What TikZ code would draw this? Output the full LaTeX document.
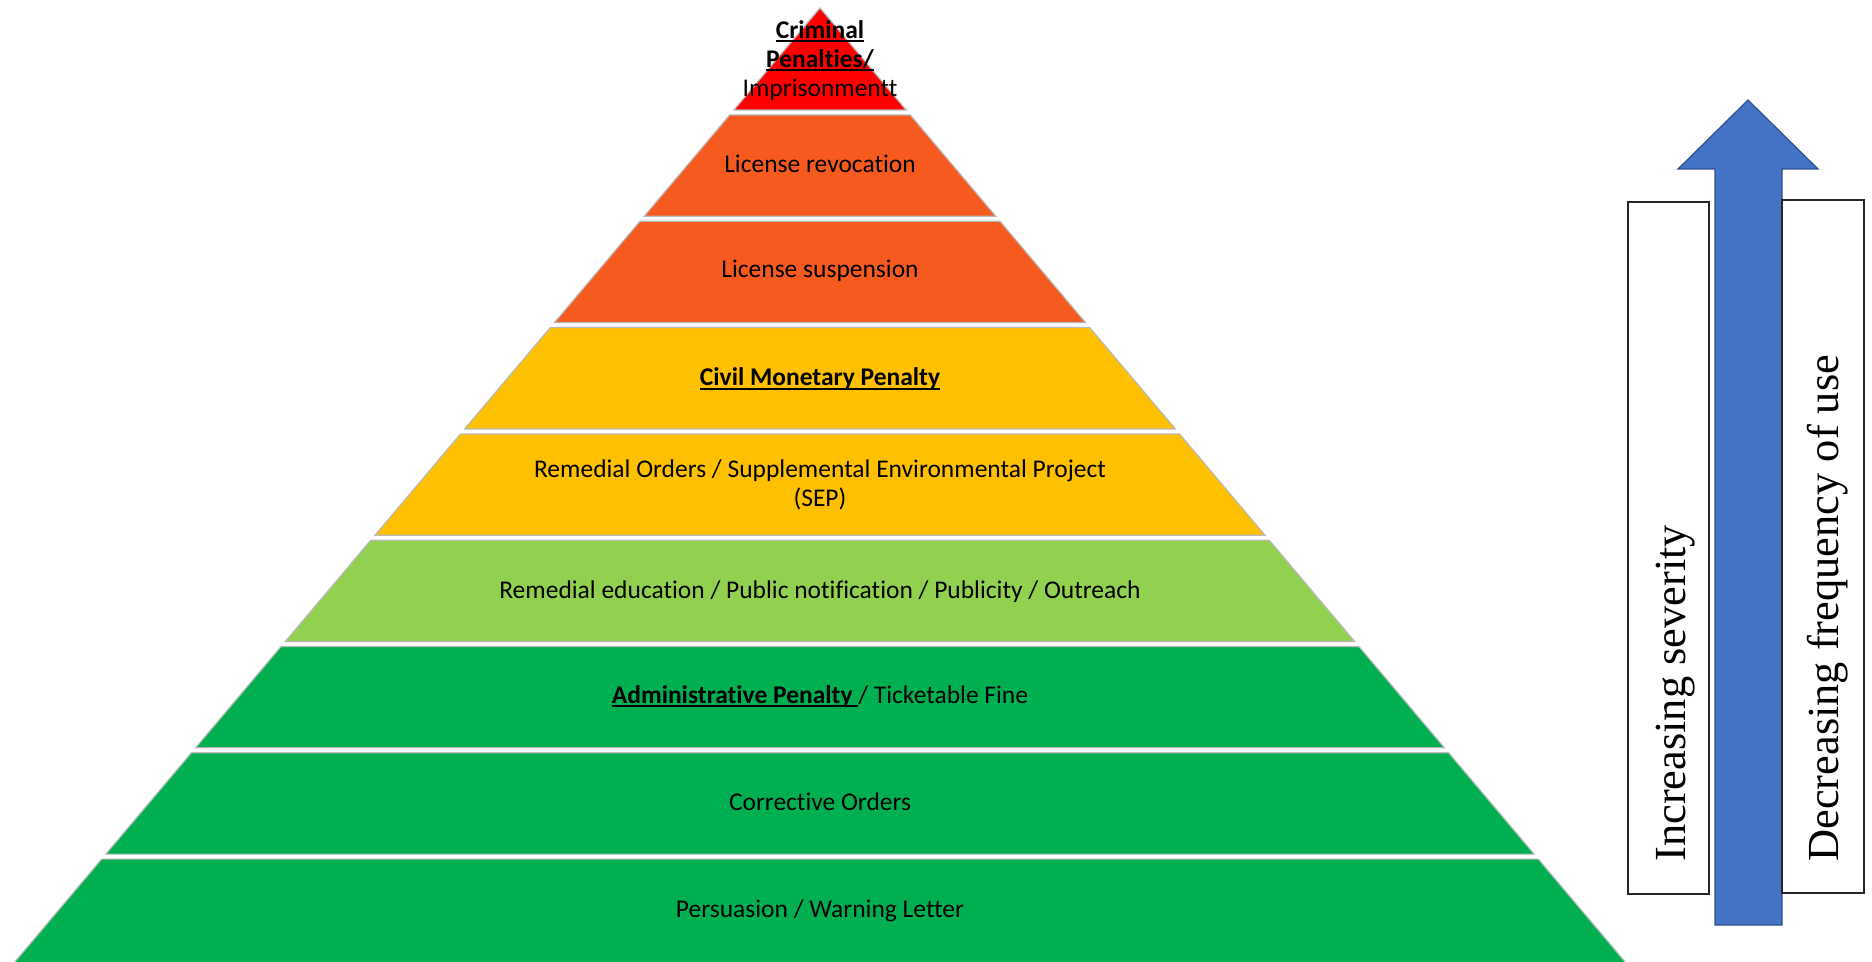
\documentclass[tikz,border=0pt]{standalone}
\usepackage{fontspec}
\setmainfont{Carlito}[Ligatures=NoCommon]
\newfontfamily\rotserif{Liberation Serif}
\definecolor{cred}{RGB}{255,0,0}
\definecolor{corange}{RGB}{246,90,30}
\definecolor{cyellow}{RGB}{255,192,0}
\definecolor{clgreen}{RGB}{146,208,80}
\definecolor{cgreen}{RGB}{0,176,80}
\definecolor{carrow}{RGB}{68,114,196}
\definecolor{carrowb}{RGB}{47,82,143}
\definecolor{cedge}{RGB}{185,185,185}
\newcommand{\myul}[1]{\setbox0\hbox{#1}\rlap{\rule[-0.14em]{\wd0}{0.075em}}\box0}
\newcommand{\band}[3]{\path[fill=#3,draw=cedge,line width=0.6pt,line join=miter]
  ({820-0.844*(#1-8)},#1) -- ({820+0.844*(#1-8)},#1) -- ({820+0.844*(#2-8)},#2) -- ({820-0.844*(#2-8)},#2) -- cycle;}
\tikzset{
  bandtext/.style={inner sep=0pt,align=center,text=black,font=\fontsize{12.75pt}{14.5pt}\selectfont},
  sidebox/.style={draw=black!85,line width=1pt,inner sep=0pt,fill=none},
  sidetext/.style={inner sep=0pt,rotate=90,anchor=base west,text=black,font=\rotserif\fontsize{22.2pt}{26pt}\selectfont},
}
\begin{document}
\begin{tikzpicture}[x=0.5pt,y=-0.5pt]
\useasboundingbox (0,0) rectangle (1872,962);
% pyramid bands
\band{8}{110}{cred}
\band{115}{216.3}{corange}
\band{221.3}{322.6}{corange}
\band{327.6}{428.9}{cyellow}
\band{433.9}{535.2}{cyellow}
\band{540.2}{641.5}{clgreen}
\band{646.5}{747.8}{cgreen}
\band{752.8}{854.1}{cgreen}
\band{859.1}{964}{cgreen}
% texts
\node[bandtext] (t1) at (820,60.5) {\textbf{\myul{Criminal}}\\\textbf{\myul{Penalties/}}\\Imprisonmentt};
\node[bandtext,anchor=base] (t2) at (820,173) {License revocation};
\node[bandtext,anchor=base] (t3) at (820,278) {License suspension};
\node[bandtext,anchor=base] (t4) at (820,386) {\textbf{\myul{Civil Monetary Penalty}}};
\node[bandtext] (t5) at (820,485) {Remedial Orders / Supplemental Environmental Project\\(SEP)};
\node[bandtext,anchor=base] (t6) at (820,598) {Remedial education / Public notification / Publicity / Outreach};
\node[bandtext,anchor=base] (t7) at (820,703) {\textbf{\myul{Administrative Penalty\ }}/ Ticketable Fine};
\node[bandtext,anchor=base] (t8) at (820,810) {Corrective Orders};
\node[bandtext,anchor=base] (t9) at (820,917) {Persuasion / Warning Letter};
% arrow
\path[fill=carrow,draw=carrowb,line width=0.6pt,line join=miter]
  (1715,925) -- (1715,169) -- (1678,169) -- (1748,100) -- (1818,169) -- (1782,169) -- (1782,925) -- cycle;
% side boxes
\node[sidebox,minimum width=40.5pt,minimum height=346pt] (sev) at (1668.5,548) {};
\node[sidebox,minimum width=41pt,minimum height=346.5pt] (freq) at (1823,546.5) {};
\node[sidetext] (sevt) at (1685,862) {Increasing severity};
\node[sidetext] (freqt) at (1838,862) {Decreasing frequency of use};
\end{tikzpicture}
\end{document}
